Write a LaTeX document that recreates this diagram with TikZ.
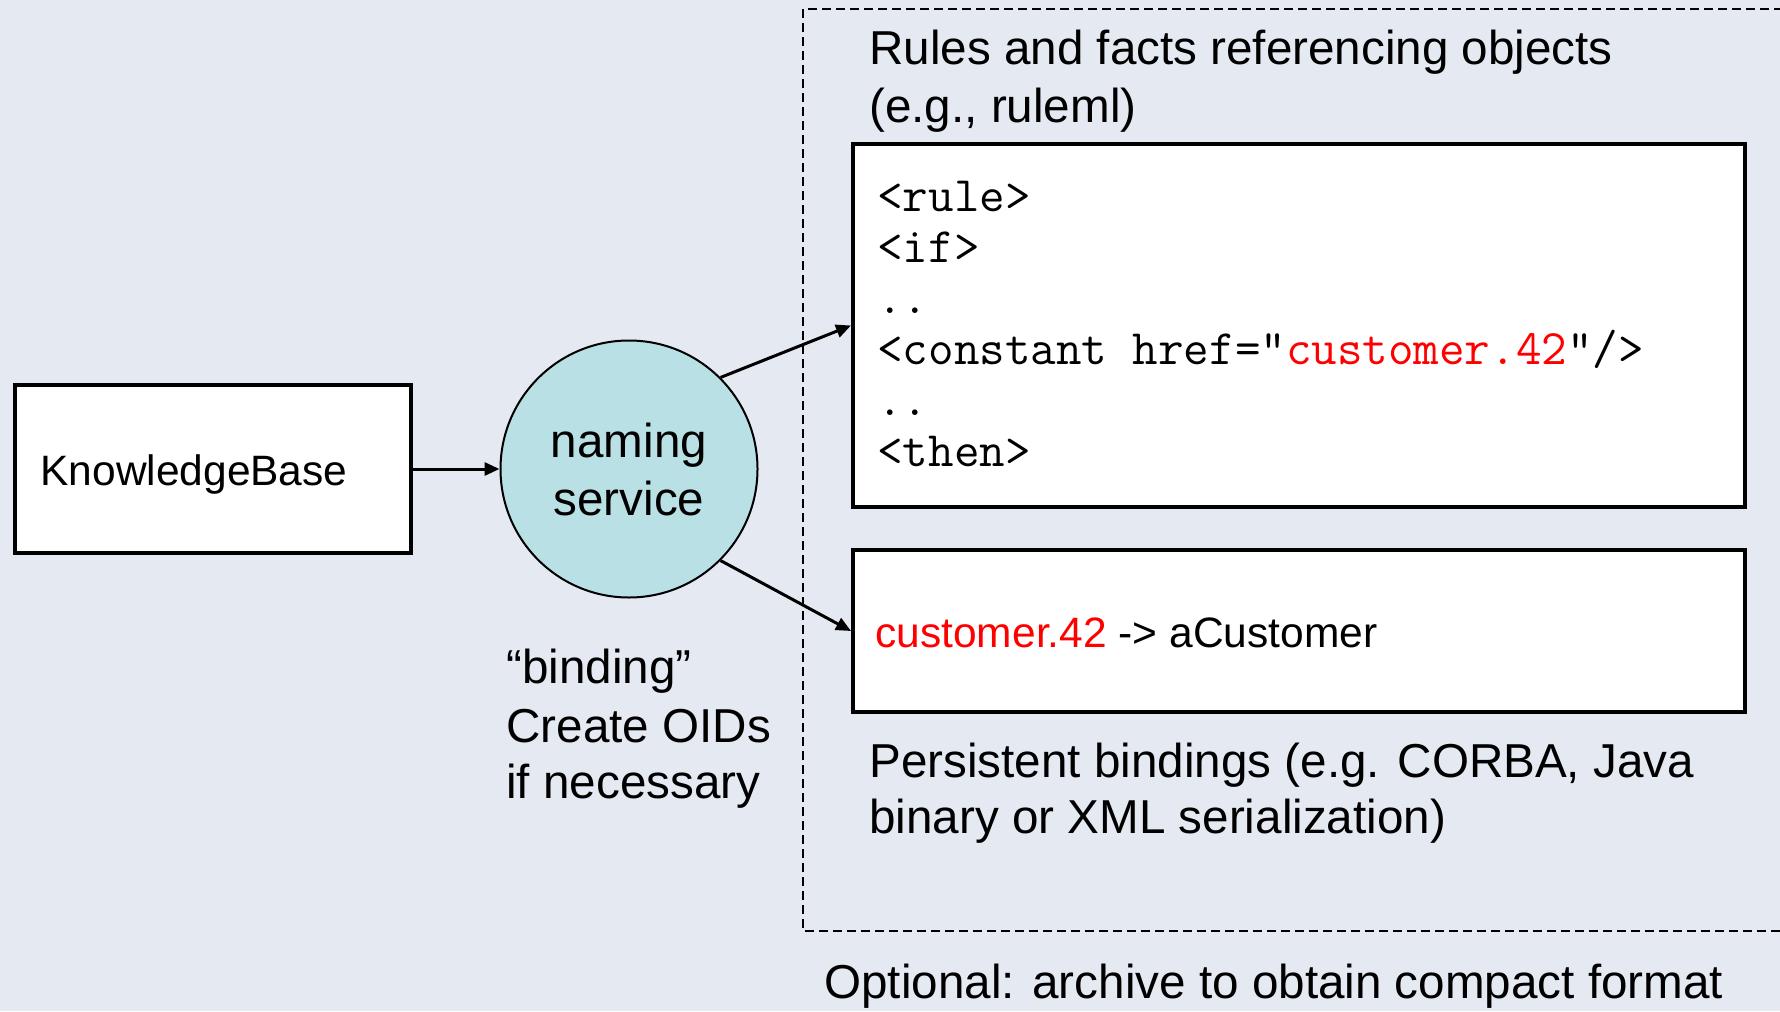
\documentclass[tikz,border=0pt]{standalone}
\usepackage{fontspec}
\setmainfont{Liberation Sans}
\usetikzlibrary{arrows.meta}
\definecolor{bgcol}{RGB}{228,233,242}
\definecolor{nsfill}{RGB}{185,224,228}
\definecolor{codered}{RGB}{255,0,0}
\begin{document}
\begin{tikzpicture}[x=0.5pt,y=-0.5pt,
  box/.style={draw=black, line width=2pt, fill=white, inner sep=0pt},
  txtL/.style={inner sep=0pt, anchor=base west, font=\fontsize{23.8pt}{28pt}\selectfont},
  txtS/.style={inner sep=0pt, anchor=base west, font=\fontsize{21.25pt}{26pt}\selectfont},
  codeline/.style={inner sep=0pt, anchor=base west, font=\ttfamily\fontsize{24.8pt}{29pt}\selectfont},
  conn/.style={line width=1.5pt, -{Triangle[length=7.5pt,width=6.5pt]}},
  region/.style={draw=black, line width=0.75pt, dash pattern=on 4.5pt off 2.5pt}]
\useasboundingbox (0,0) rectangle (1780,1011);
\clip (0,0) rectangle (1780,1011);
\fill[bgcol] (0,0) rectangle (1780,1011);

% dashed region
\draw[region] (803,9) rectangle (1820,931);

% boxes
\node[box, minimum width=198pt, minimum height=84pt] (kb) at (213,469) {};
\node[box, minimum width=446pt, minimum height=181.5pt] (rb) at (1299,325.5) {};
\node[box, minimum width=446pt, minimum height=81pt] (lb) at (1299,631) {};
\node[draw=black, line width=1pt, fill=nsfill, circle, minimum size=128.5pt, inner sep=0pt] (ns) at (629,469) {};

% texts
\node[txtS] (kbt) at (40,485) {KnowledgeBase};
\node[txtL, anchor=base] (ns1) at (629,457) {naming};
\node[txtL, anchor=base] (ns2) at (629,515) {service};

\node[txtL] (bd1) at (506,683) {“binding”};
\node[txtL] (bd2) at (506,742) {Create OIDs};
\node[txtL] (bd3) at (506,798) {if necessary};

\node[txtL] (rt1) at (869,65) {Rules and facts referencing objects};
\node[txtL] (rt2) at (869,122) {(e.g., ruleml)};

\node[codeline] (c1) at (877,211) {<rule>};
\node[codeline] (c2) at (877,262) {<if>};
\node[codeline] (c3) at (877,313) {..};
\node[codeline] (c4) at (877,364) {<constant href=“\textcolor{codered}{customer.42}”/>};
\node[codeline] (c5) at (877,415) {..};
\node[codeline] (c6) at (877,466) {<then>};

\node[txtS] (bt) at (875,647) {\textcolor{codered}{customer.42} -> aCustomer};

\node[txtL] (pb1) at (869,777) {Persistent bindings (e.g. CORBA, Java};
\node[txtL] (pb2) at (869,833) {binary or XML serialization)};

\node[txtL] (opt) at (824,998) {Optional: archive to obtain compact format};

% connectors
\draw[conn] (kb.east) -- (ns.west);
\draw[conn] (ns.45) -- (rb.west);
\draw[conn] (ns.-45) -- (lb.west);
\end{tikzpicture}
\end{document}
